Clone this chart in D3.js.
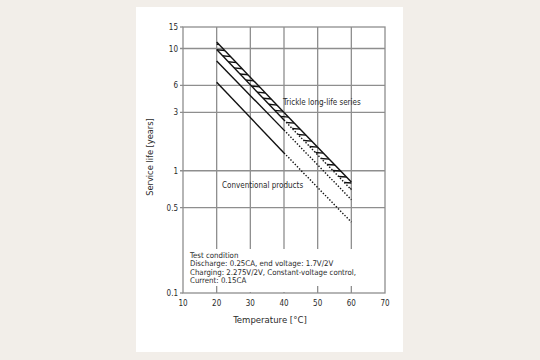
<!DOCTYPE html>
<html>
<head>
<meta charset="utf-8">
<script src="https://cdn.jsdelivr.net/npm/d3@7"></script>
<style>
  body { margin: 0; background: #f2eee9; }
  svg { display: block; }
  text { font-family: "DejaVu Sans Condensed", "DejaVu Sans", sans-serif; fill: #2a2a2a; }
</style>
</head>
<body>
<script>
// temperatures where the curves are read (deg C)
var temps = [20, 40, 60];
// service life in years
var trickleUpper = [11.3, 3.0, 0.81];
var trickleLower = [9.8, 2.6, 0.70];
var convUpper = [7.9, 2.15, 0.58];
var convLower = [5.3, 1.4, 0.38];

var xTicks = [10, 20, 30, 40, 50, 60, 70];
var xGrid = [20, 30, 40, 50, 60];
var yTicks = [0.1, 0.5, 1, 3, 5, 10, 15];
var yTickLabels = ["0.1", "0.5", "1", "3", "6", "10", "15"];
var yGrid = [0.5, 1, 3, 5, 10];

var notes = [
    "Test condition",
    "Discharge: 0.25CA, end voltage: 1.7V/2V",
    "Charging: 2.275V/2V, Constant-voltage control,",
    "Current: 0.15CA"
];

var w = 540, h = 360;
var svg = d3.select("body").append("svg").attr("width", w).attr("height", h);

// white card
svg.append("rect")
    .attr("x", 136).attr("y", 7)
    .attr("width", 267).attr("height", 345)
    .attr("fill", "#fff");

var x = d3.scaleLinear().domain([10, 70]).range([183, 385]);
var y = d3.scaleLog().domain([0.1, 15]).range([293, 27]);

var gridColor = "#8e8e8e";

// grid
svg.selectAll(".vgrid")
    .data(xGrid)
    .enter()
    .append("line")
    .attr("x1", function(d) { return x(d); })
    .attr("x2", function(d) { return x(d); })
    .attr("y1", y(15))
    .attr("y2", y(0.1))
    .attr("stroke", gridColor)
    .attr("stroke-width", 1.3);

svg.selectAll(".hgrid")
    .data(yGrid)
    .enter()
    .append("line")
    .attr("x1", x(10) - 3)
    .attr("x2", x(70))
    .attr("y1", function(d) { return y(d); })
    .attr("y2", function(d) { return y(d); })
    .attr("stroke", gridColor)
    .attr("stroke-width", 1.3);

// frame
svg.append("rect")
    .attr("x", x(10)).attr("y", y(15))
    .attr("width", x(70) - x(10)).attr("height", y(0.1) - y(15))
    .attr("fill", "none")
    .attr("stroke", gridColor)
    .attr("stroke-width", 1.3);

// small ticks on the left for top and bottom
svg.selectAll(".ytick")
    .data([0.1, 15])
    .enter()
    .append("line")
    .attr("x1", x(10) - 3).attr("x2", x(10))
    .attr("y1", function(d) { return y(d); })
    .attr("y2", function(d) { return y(d); })
    .attr("stroke", gridColor)
    .attr("stroke-width", 1.3);

// white box behind the test condition text
svg.append("rect")
    .attr("x", x(10) + 1).attr("y", 249)
    .attr("width", x(70) - x(10) - 2).attr("height", 37)
    .attr("fill", "#fff");
svg.append("rect")
    .attr("x", x(26)).attr("y", 249)
    .attr("width", x(44) - x(26)).attr("height", y(0.1) - 249 - 1)
    .attr("fill", "#fff");

// tick labels
svg.selectAll(".ylab")
    .data(yTicks)
    .enter()
    .append("text")
    .attr("x", x(10) - 5)
    .attr("y", function(d) { return y(d) + 3; })
    .attr("text-anchor", "end")
    .attr("font-size", 8)
    .text(function(d, i) { return yTickLabels[i]; });

svg.selectAll(".xlab")
    .data(xTicks)
    .enter()
    .append("text")
    .attr("x", function(d) { return x(d); })
    .attr("y", y(0.1) + 13)
    .attr("text-anchor", "middle")
    .attr("font-size", 8)
    .text(function(d) { return d; });

svg.append("text")
    .attr("x", 270).attr("y", 323)
    .attr("text-anchor", "middle")
    .attr("font-size", 9.5)
    .text("Temperature [°C]");

svg.append("text")
    .attr("transform", "translate(153,157) rotate(-90)")
    .attr("text-anchor", "middle")
    .attr("font-size", 9.2)
    .text("Service life [years]");

// curves
var line = d3.line()
    .x(function(d) { return x(d.t); })
    .y(function(d) { return y(d.v); });

function pts(arr) {
    return temps.map(function(t, i) { return { t: t, v: arr[i] }; });
}

// piecewise straight in log space
function valueAt(arr, t) {
    var s = d3.scaleLinear().domain(temps).range(arr.map(Math.log10));
    return Math.pow(10, s(t));
}

// hatching between the trickle lines
var band = d3.area()
    .x(function(d) { return x(d.t); })
    .y0(function(d) { return y(d.lo); })
    .y1(function(d) { return y(d.hi); });
var bandData = temps.map(function(t, i) { return { t: t, hi: trickleUpper[i], lo: trickleLower[i] }; });

svg.append("clipPath").attr("id", "bandclip")
    .append("path").attr("d", band(bandData));

var hatchStarts = d3.range(x(20) - 12, x(60) + 2, 5.8);
svg.append("g")
    .attr("clip-path", "url(#bandclip)")
    .selectAll("line")
    .data(hatchStarts)
    .enter()
    .append("line")
    .attr("x1", function(d) { return d; })
    .attr("y1", function(d) { return y(valueAt(trickleLower, x.invert(d))) + 0.5; })
    .attr("x2", function(d) { return d + 9; })
    .attr("y2", function(d) { return y(valueAt(trickleUpper, x.invert(d + 9))) - 0.5; })
    .attr("stroke", "#111")
    .attr("stroke-width", 1.4);

var series = [
    { vals: trickleUpper, dottedEnd: false },
    { vals: trickleLower, dottedEnd: true },
    { vals: convUpper, dottedEnd: true },
    { vals: convLower, dottedEnd: true }
];

series.forEach(function(s) {
    var p = pts(s.vals);
    svg.append("path")
        .attr("d", line(p.slice(0, 2)))
        .attr("fill", "none")
        .attr("stroke", "#111")
        .attr("stroke-width", 1.4);
    svg.append("path")
        .attr("d", line(p.slice(1)))
        .attr("fill", "none")
        .attr("stroke", "#111")
        .attr("stroke-width", 1.4)
        .attr("stroke-dasharray", s.dottedEnd ? "1.4,1.7" : null);
});

// annotations
svg.append("text")
    .attr("x", 283).attr("y", 104.5)
    .attr("font-size", 8)
    .text("Trickle long-life series");

svg.append("text")
    .attr("x", 222).attr("y", 188)
    .attr("font-size", 8)
    .text("Conventional products");

svg.selectAll(".note")
    .data(notes)
    .enter()
    .append("text")
    .attr("x", 190)
    .attr("y", function(d, i) { return 258 + i * 8.4; })
    .attr("font-size", 7.8)
    .text(function(d) { return d; });
</script>
</body>
</html>
